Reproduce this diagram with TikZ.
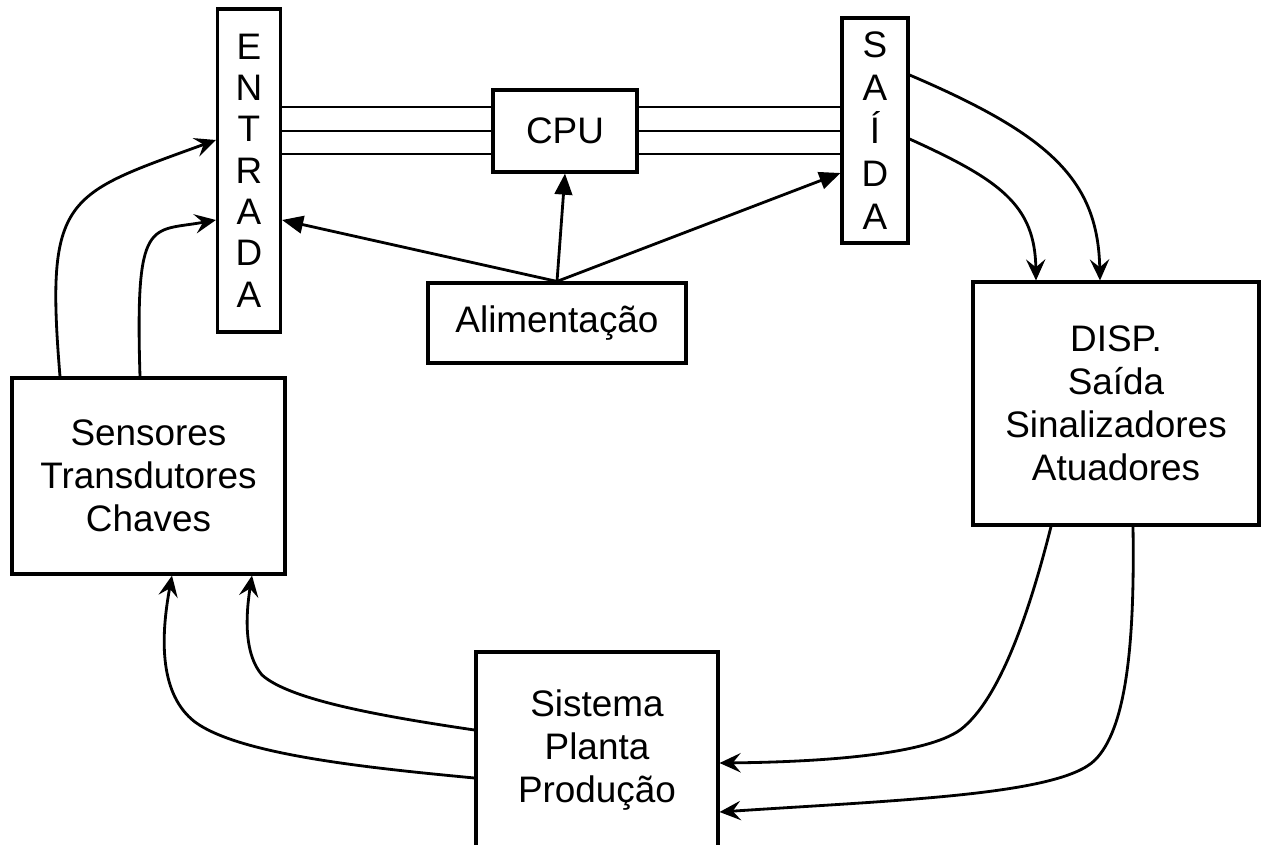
\documentclass[tikz,border=0pt]{standalone}
\usepackage{fontspec}
\setmainfont{Liberation Sans}
\usetikzlibrary{arrows.meta}

\begin{document}
\begin{tikzpicture}
	[x=0.02cm,y=-0.02cm,
	blk/.style={rectangle,draw=black,line width=1.8pt,inner sep=0pt,align=center,font=\fontsize{21}{24.5}\selectfont},
	bus/.style={-,line width=1.6pt},
	pwr/.style={-{Triangle[length=12pt,width=10pt]},line width=1.6pt},
	sig/.style={-{Stealth[length=12pt,width=11pt,inset=4.5pt]},line width=1.6pt}]
	\useasboundingbox (0,0) rectangle (1262,845);
	\clip (0,0) rectangle (1262,845);
	\node[blk,minimum width=1.26cm,minimum height=6.46cm,font=\fontsize{21}{23.5}\selectfont] (ent) at (249,170.5) {E\\N\\T\\R\\A\\D\\A};
	\node[blk,minimum width=1.32cm,minimum height=4.5cm,font=\fontsize{21}{24.4}\selectfont] (sai) at (875,130.5) {S\\A\\Í\\D\\A};
	\node[blk,minimum width=2.88cm,minimum height=1.64cm] (cpu) at (565,131) {CPU};
	\node[blk,minimum width=5.16cm,minimum height=1.6cm] (ali) at (557,323) {Alimentação};
	\node[blk,minimum width=5.72cm,minimum height=4.86cm] (disp) at (1116,403.5) {DISP.\\Saída\\Sinalizadores\\Atuadores};
	\node[blk,minimum width=5.46cm,minimum height=3.92cm] (sens) at (148.5,476) {Sensores\\Transdutores\\Chaves};
	\node[blk,minimum width=4.84cm,minimum height=3.92cm] (sis) at (597,750) {Sistema\\Planta\\Produção};
	% barramento
	\foreach \y in {107,131,154} {
		\path (ent.east |- 0,\y) edge[bus] (cpu.west |- 0,\y);
		\path (cpu.east |- 0,\y) edge[bus] (sai.west |- 0,\y);
	}
	% alimentacao
	\path (ali.north) edge[pwr] (ent.east |- 0,220);
	\path (ali.north) edge[pwr] (cpu.south);
	\path (ali.north) edge[pwr] (sai.west |- 0,173);
	% sinais
	\draw[sig] (sens.north -| 60,0) .. controls (45,195) and (65,195) .. (ent.west |- 0,140);
	\draw[sig] (sens.north -| 140,0) .. controls (135,215) and (150,232) .. (ent.west |- 0,220);
	\draw[sig] (sai.east |- 0,75) .. controls (1050,135) and (1098,180) .. (disp.north -| 1100,0);
	\draw[sig] (sai.east |- 0,139) .. controls (1000,180) and (1035,205) .. (disp.north -| 1036,0);
	\draw[sig] (disp.south -| 1051,0) .. controls (1030,610) and (1000,700) .. (960,730) .. controls (925,755) and (820,762) .. (sis.east |- 0,763);
	\draw[sig] (disp.south -| 1133,0) .. controls (1135,650) and (1125,730) .. (1095,760) .. controls (1060,795) and (900,800) .. (sis.east |- 0,812);
	\draw[sig] (sis.west |- 0,730) .. controls (380,716) and (290,700) .. (262,675) .. controls (245,655) and (245,620) .. (sens.south -| 252,0);
	\draw[sig] (sis.west |- 0,778) .. controls (370,768) and (240,755) .. (195,722) .. controls (160,695) and (160,640) .. (sens.south -| 172,0);
\end{tikzpicture}
\end{document}
